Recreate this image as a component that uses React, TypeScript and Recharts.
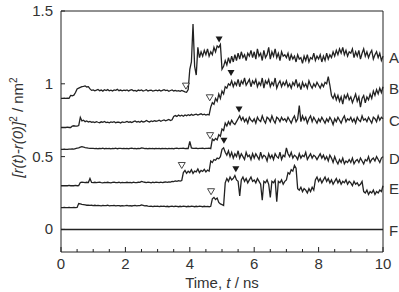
import { ComposedChart, Line, Scatter, XAxis, YAxis, ReferenceArea } from "recharts"

// sampling of the traces, ns
const STEP = 0.05

// trace A
const aValues = [
  0.90, 0.90, 0.901, 0.90, 0.902, 0.90, 0.92, 0.918, 0.922, 0.94, 0.965, 0.97, 0.975, 0.98, 0.982, 0.985, 0.978, 0.98, 0.965, 0.955,
  0.958, 0.952, 0.956, 0.961, 0.953, 0.957, 0.95, 0.959, 0.954, 0.96, 0.952, 0.956, 0.951, 0.958, 0.955, 0.962, 0.953, 0.957, 0.952, 0.956,
  0.954, 0.958, 0.951, 0.956, 0.96, 0.952, 0.955, 0.949, 0.957, 0.953, 0.958, 0.95, 0.954, 0.959, 0.951, 0.955, 0.957, 0.95, 0.953, 0.956,
  0.952, 0.957, 0.95, 0.955, 0.96, 0.953, 0.956, 0.949, 0.954, 0.958, 0.951, 0.955, 0.95, 0.953, 0.948, 0.955, 0.95, 0.945, 0.942, 0.96,
  1.10, 1.15, 1.41, 1.12, 1.06, 1.25, 1.18, 1.22, 1.19, 1.23, 1.2, 1.24, 1.19, 1.22, 1.2, 1.25, 1.22, 1.26, 1.25, 1.27,
  1.10, 1.12, 1.16, 1.13, 1.18, 1.14, 1.19, 1.15, 1.2, 1.16, 1.21, 1.17, 1.22, 1.18, 1.2, 1.16, 1.21, 1.19, 1.23, 1.18,
  1.22, 1.17, 1.24, 1.19, 1.21, 1.16, 1.23, 1.18, 1.2, 1.25, 1.17, 1.22, 1.19, 1.24, 1.18, 1.21, 1.16, 1.22, 1.19, 1.2,
  1.18, 1.21, 1.16, 1.2, 1.17, 1.19, 1.15, 1.2, 1.17, 1.18, 1.14, 1.19, 1.16, 1.2, 1.15, 1.18, 1.17, 1.21, 1.16, 1.19,
  1.17, 1.2, 1.15, 1.19, 1.16, 1.21, 1.17, 1.2, 1.18, 1.22, 1.19, 1.23, 1.2, 1.24, 1.21, 1.25, 1.2, 1.23, 1.19, 1.22,
  1.21, 1.24, 1.18, 1.22, 1.19, 1.23, 1.17, 1.21, 1.24, 1.19, 1.22, 1.18, 1.21, 1.23, 1.17, 1.2, 1.22, 1.18, 1.21, 1.16, 1.19,
]

// trace B
const bValues = [
  0.70, 0.70, 0.701, 0.70, 0.702, 0.70, 0.70, 0.71, 0.712, 0.71, 0.71, 0.713, 0.77, 0.745, 0.75, 0.74, 0.745, 0.738, 0.742, 0.736,
  0.738, 0.734, 0.74, 0.736, 0.733, 0.739, 0.735, 0.741, 0.734, 0.737, 0.732, 0.738, 0.735, 0.74, 0.733, 0.737, 0.736, 0.731, 0.738, 0.735,
  0.737, 0.742, 0.735, 0.739, 0.734, 0.74, 0.745, 0.737, 0.741, 0.736, 0.744, 0.738, 0.74, 0.748, 0.742, 0.738, 0.745, 0.741, 0.747, 0.743,
  0.745, 0.75, 0.743, 0.748, 0.752, 0.746, 0.75, 0.755, 0.748, 0.753, 0.775, 0.782, 0.776, 0.785, 0.779, 0.784, 0.777, 0.786, 0.781, 0.788,
  0.782, 0.79, 0.784, 0.788, 0.792, 0.785, 0.79, 0.794, 0.787, 0.791, 0.785, 0.79, 0.786, 0.84, 0.87, 0.86, 0.9, 0.88, 0.93, 0.9,
  0.95, 0.93, 0.98, 0.97, 1.0, 0.99, 1.02, 0.98, 1.01, 0.99, 1.03, 0.98, 1.02, 1.0, 1.04, 0.99, 1.01, 1.03, 0.98, 1.02,
  1.0, 1.03, 0.98, 1.01, 0.99, 1.04, 0.97, 1.02, 1.0, 1.03, 0.98, 1.01, 0.99, 1.04, 0.97, 1.0, 1.02, 0.98, 1.01, 0.99,
  1.02, 0.98, 1.0, 0.97, 1.01, 0.99, 1.03, 0.98, 1.0, 0.96, 1.01, 0.98, 1.0, 0.97, 1.02, 0.99, 0.97, 1.0, 0.98, 1.01,
  0.99, 0.97, 1.0, 0.98, 1.01, 1.0, 1.05, 0.99, 0.92, 0.9, 0.93, 0.89, 0.92, 0.88, 0.91, 0.86, 0.92, 0.9, 0.93, 0.89,
  0.91, 0.87, 0.9, 0.93, 0.88, 0.91, 0.84, 0.9, 0.92, 0.87, 0.91, 0.89, 0.93, 0.9, 0.95, 0.92, 0.96, 0.93, 0.97, 0.94, 0.98,
]

// trace C
const cValues = [
  0.55, 0.55, 0.551, 0.55, 0.55, 0.552, 0.551, 0.553, 0.552, 0.555, 0.558, 0.56, 0.565, 0.568, 0.566, 0.562, 0.56, 0.558, 0.557, 0.556,
  0.556, 0.555, 0.557, 0.554, 0.556, 0.555, 0.558, 0.554, 0.556, 0.555, 0.557, 0.553, 0.556, 0.555, 0.558, 0.554, 0.556, 0.557, 0.555, 0.556,
  0.555, 0.557, 0.554, 0.556, 0.558, 0.555, 0.557, 0.554, 0.556, 0.555, 0.56, 0.558, 0.555, 0.557, 0.554, 0.556, 0.555, 0.557, 0.554, 0.556,
  0.555, 0.557, 0.554, 0.556, 0.555, 0.557, 0.553, 0.556, 0.555, 0.557, 0.554, 0.556, 0.558, 0.555, 0.557, 0.556, 0.558, 0.555, 0.557, 0.556,
  0.605, 0.56, 0.557, 0.556, 0.558, 0.555, 0.557, 0.556, 0.558, 0.555, 0.557, 0.556, 0.558, 0.555, 0.62, 0.61, 0.625, 0.615, 0.65, 0.64,
  0.69, 0.68, 0.73, 0.71, 0.74, 0.72, 0.75, 0.73, 0.72, 0.74, 0.76, 0.78, 0.75, 0.77, 0.74, 0.76, 0.73, 0.77, 0.75, 0.74,
  0.76, 0.73, 0.77, 0.75, 0.74, 0.78, 0.75, 0.73, 0.77, 0.76, 0.74, 0.78, 0.75, 0.73, 0.77, 0.76, 0.74, 0.77, 0.75, 0.76,
  0.74, 0.77, 0.75, 0.73, 0.76, 0.78, 0.74, 0.76, 0.85, 0.74, 0.78, 0.75, 0.77, 0.73, 0.76, 0.78, 0.74, 0.77, 0.75, 0.73,
  0.76, 0.74, 0.77, 0.75, 0.73, 0.76, 0.74, 0.77, 0.75, 0.72, 0.76, 0.74, 0.77, 0.75, 0.73, 0.76, 0.78, 0.74, 0.76, 0.75,
  0.77, 0.74, 0.76, 0.73, 0.77, 0.75, 0.74, 0.78, 0.75, 0.76, 0.74, 0.77, 0.75, 0.73, 0.77, 0.76, 0.74, 0.78, 0.75, 0.77, 0.76,
]

// trace D
const dValues = [
  0.30, 0.30, 0.301, 0.30, 0.30, 0.302, 0.30, 0.301, 0.30, 0.302, 0.30, 0.301, 0.322, 0.325, 0.323, 0.321, 0.324, 0.322, 0.35, 0.323,
  0.322, 0.324, 0.321, 0.323, 0.325, 0.322, 0.32, 0.323, 0.321, 0.324, 0.322, 0.32, 0.323, 0.325, 0.321, 0.322, 0.324, 0.32, 0.323, 0.322,
  0.321, 0.324, 0.322, 0.323, 0.32, 0.325, 0.322, 0.321, 0.324, 0.323, 0.33, 0.326, 0.324, 0.322, 0.325, 0.323, 0.32, 0.324, 0.322, 0.325,
  0.323, 0.321, 0.325, 0.322, 0.324, 0.326, 0.323, 0.327, 0.325, 0.33, 0.328, 0.333, 0.33, 0.335, 0.332, 0.336, 0.39, 0.405, 0.385, 0.4,
  0.39, 0.41, 0.385, 0.4, 0.395, 0.415, 0.39, 0.405, 0.398, 0.412, 0.395, 0.408, 0.4, 0.47, 0.46, 0.48, 0.475, 0.49, 0.485, 0.5,
  0.55, 0.56, 0.53, 0.51, 0.54, 0.5, 0.53, 0.49, 0.52, 0.5, 0.54, 0.49, 0.52, 0.5, 0.48, 0.53, 0.5, 0.51, 0.48, 0.52,
  0.49, 0.52, 0.5, 0.48, 0.53, 0.49, 0.51, 0.5, 0.47, 0.52, 0.49, 0.51, 0.48, 0.52, 0.5, 0.49, 0.53, 0.48, 0.51, 0.5,
  0.56, 0.52, 0.5, 0.53, 0.49, 0.51, 0.5, 0.48, 0.52, 0.49, 0.51, 0.5, 0.53, 0.48, 0.5, 0.52, 0.49, 0.51, 0.5, 0.48,
  0.5, 0.52, 0.49, 0.51, 0.48, 0.5, 0.47, 0.51, 0.49, 0.46, 0.5, 0.47, 0.45, 0.48, 0.46, 0.49, 0.45, 0.47, 0.46, 0.48,
  0.46, 0.49, 0.45, 0.47, 0.48, 0.46, 0.49, 0.47, 0.45, 0.48, 0.47, 0.5, 0.46, 0.48, 0.49, 0.47, 0.5, 0.48, 0.46, 0.49, 0.5,
]

// trace E
const eValues = [
  0.15, 0.15, 0.151, 0.15, 0.15, 0.151, 0.15, 0.15, 0.152, 0.15, 0.151, 0.178, 0.175, 0.172, 0.17, 0.168, 0.166, 0.167, 0.165, 0.166,
  0.164, 0.166, 0.163, 0.165, 0.164, 0.162, 0.165, 0.163, 0.164, 0.166, 0.162, 0.164, 0.163, 0.165, 0.162, 0.164, 0.163, 0.161, 0.164, 0.162,
  0.163, 0.165, 0.162, 0.164, 0.161, 0.163, 0.165, 0.162, 0.164, 0.163, 0.168, 0.165, 0.162, 0.164, 0.16, 0.158, 0.16, 0.157, 0.159, 0.158,
  0.16, 0.157, 0.159, 0.158, 0.16, 0.157, 0.159, 0.156, 0.158, 0.16, 0.157, 0.159, 0.158, 0.156, 0.159, 0.157, 0.16, 0.158, 0.156, 0.159,
  0.157, 0.159, 0.158, 0.156, 0.159, 0.157, 0.16, 0.158, 0.156, 0.159, 0.157, 0.158, 0.156, 0.159, 0.21, 0.22, 0.205, 0.215, 0.185, 0.175,
  0.17, 0.165, 0.32, 0.35, 0.33, 0.36, 0.34, 0.35, 0.37, 0.34, 0.33, 0.23, 0.34, 0.36, 0.33, 0.35, 0.32, 0.34, 0.36, 0.33,
  0.34, 0.32, 0.35, 0.33, 0.31, 0.2, 0.33, 0.32, 0.34, 0.31, 0.22, 0.33, 0.32, 0.34, 0.19, 0.33, 0.32, 0.34, 0.31, 0.33,
  0.34, 0.39, 0.38, 0.41, 0.4, 0.44, 0.42, 0.28, 0.27, 0.29, 0.26, 0.28, 0.27, 0.25, 0.28, 0.26, 0.29, 0.27, 0.34, 0.36,
  0.33, 0.35, 0.32, 0.34, 0.36, 0.33, 0.35, 0.32, 0.34, 0.31, 0.33, 0.35, 0.32, 0.34, 0.31, 0.33, 0.32, 0.34, 0.31, 0.33,
  0.32, 0.3, 0.33, 0.31, 0.32, 0.3, 0.31, 0.33, 0.26, 0.25, 0.27, 0.24, 0.26, 0.25, 0.27, 0.24, 0.26, 0.25, 0.27, 0.26, 0.3,
]

// trace F is flat
const fTimes = [0, 10]
const fValues = [0, 0]

// open / filled triangle markers (time, value of the tip)
const openT = [3.88, 4.62, 4.63, 3.75, 4.66]
const openV = [0.96, 0.88, 0.62, 0.415, 0.235]
const filledT = [4.91, 5.28, 5.53, 5.06, 5.43]
const filledV = [1.28, 1.05, 0.8, 0.585, 0.39]

// trace names at the right edge
const tagNames = ["A", "B", "C", "D", "E", "F"]
const tagValues = [1.18, 0.965, 0.747, 0.485, 0.279, -0.01]

const xTicks = [0, 0.5, 1, 1.5, 2, 2.5, 3, 3.5, 4, 4.5, 5, 5.5, 6, 6.5, 7, 7.5, 8, 8.5, 9, 9.5, 10]
const yTicks = [0, 0.5, 1, 1.5]

const FONT = "'Liberation Sans', Arial, sans-serif"
const INK = "#222"
const TEXT = "#333"

const rows = aValues.map((a, i) => ({
  t: Math.round(i * STEP * 100) / 100,
  A: a,
  B: bValues[i],
  C: cValues[i],
  D: dValues[i],
  E: eValues[i],
}))
const fRows = fTimes.map((t, i) => ({ t, F: fValues[i] }))
const openRows = openT.map((t, i) => ({ t, v: openV[i] }))
const filledRows = filledT.map((t, i) => ({ t, v: filledV[i] }))
const tagRows = tagNames.map((name, i) => ({ t: 10, v: tagValues[i], name }))

function BottomTick(props: any) {
  const { x, y, payload } = props
  const major = payload.value % 2 === 0
  return (
    <g>
      <line x1={x} y1={y} x2={x} y2={y - (major ? 5 : 3)} stroke={INK} />
      {major && (
        <text x={x} y={y + 17} textAnchor="middle" fontSize={15} fontFamily={FONT} fill={TEXT}>
          {payload.value}
        </text>
      )}
    </g>
  )
}

function TopTick(props: any) {
  const { x, y, payload } = props
  const major = payload.value % 2 === 0
  return <line x1={x} y1={y} x2={x} y2={y + (major ? 5 : 3)} stroke={INK} />
}

function LeftTick(props: any) {
  const { x, y, payload } = props
  return (
    <g>
      <line x1={x} y1={y} x2={x + 4} y2={y} stroke={INK} />
      <text x={x - 8} y={y + 5} textAnchor="end" fontSize={15} fontFamily={FONT} fill={TEXT}>
        {payload.value}
      </text>
    </g>
  )
}

function OpenTriangle(props: any) {
  const { cx, cy } = props
  return (
    <path
      d={`M${cx - 3.5},${cy - 6.5}L${cx + 3.5},${cy - 6.5}L${cx},${cy - 0.5}Z`}
      fill="#fff"
      stroke="#333"
      strokeWidth={0.9}
    />
  )
}

function FilledTriangle(props: any) {
  const { cx, cy } = props
  return <path d={`M${cx - 3.5},${cy - 6.5}L${cx + 3.5},${cy - 6.5}L${cx},${cy - 0.5}Z`} fill="#1a1a1a" />
}

function Tag(props: any) {
  const { cx, cy, payload } = props
  return (
    <text x={cx + 6} y={cy + 5.5} fontSize={15} fontFamily={FONT} fill={TEXT}>
      {payload.name}
    </text>
  )
}

function XTitle(props: any) {
  const { x, y, width } = props.viewBox
  return (
    <text x={x + width / 2} y={y + 36} textAnchor="middle" fontSize={15} fontFamily={FONT} fill={TEXT}>
      Time, <tspan fontStyle="italic">t</tspan> / ns
    </text>
  )
}

function YTitle(props: any) {
  const { y, height } = props.viewBox
  const cx = 23
  const cy = y + height / 2 - 4
  return (
    <text
      x={cx}
      y={cy}
      transform={`rotate(-90 ${cx} ${cy})`}
      textAnchor="middle"
      fontSize={15}
      fontFamily={FONT}
      fill={TEXT}
    >
      <tspan fontStyle="italic">[r(t)-r(0)]</tspan>
      <tspan dy={-6} fontSize={10}>2</tspan>
      <tspan dy={6}> / nm</tspan>
      <tspan dy={-6} fontSize={10}>2</tspan>
    </text>
  )
}

export default function App() {
  return (
    <div style={{ position: "absolute", left: 0, top: 0, width: 399, height: 292, background: "#fff" }}>
      <ComposedChart width={399} height={292} data={rows} margin={{ top: 11, right: 16, bottom: 0, left: 0 }}>
        <XAxis
          xAxisId="b"
          dataKey="t"
          type="number"
          domain={[0, 10]}
          ticks={xTicks}
          interval={0}
          height={40}
          axisLine={false}
          tickLine={false}
          tickSize={0}
          tickMargin={0}
          tick={<BottomTick />}
          label={{ content: (p: any) => <XTitle {...p} /> }}
        />
        <XAxis
          xAxisId="top"
          orientation="top"
          dataKey="t"
          type="number"
          domain={[0, 10]}
          allowDataOverflow
          ticks={xTicks}
          interval={0}
          height={0}
          axisLine={false}
          tickLine={false}
          tickSize={0}
          tickMargin={0}
          tick={<TopTick />}
        />
        <YAxis
          type="number"
          domain={[-0.155, 1.5]}
          ticks={yTicks}
          interval={0}
          width={61}
          axisLine={false}
          tickLine={false}
          tickSize={0}
          tickMargin={0}
          tick={<LeftTick />}
          label={{ content: (p: any) => <YTitle {...p} /> }}
        />
        <ReferenceArea xAxisId="b" x1={0} x2={10} y1={-0.155} y2={1.5} fill="none" stroke={INK} strokeWidth={1} />
        {["A", "B", "C", "D", "E"].map((k) => (
          <Line
            key={k}
            xAxisId="b"
            dataKey={k}
            type="linear"
            dot={false}
            stroke={INK}
            strokeWidth={1.3}
            isAnimationActive={false}
          />
        ))}
        <Line xAxisId="b" data={fRows} dataKey="F" type="linear" dot={false} stroke={INK} strokeWidth={1.4} isAnimationActive={false} />
        <Scatter xAxisId="b" data={openRows} dataKey="v" shape={<OpenTriangle />} isAnimationActive={false} />
        <Scatter xAxisId="b" data={filledRows} dataKey="v" shape={<FilledTriangle />} isAnimationActive={false} />
        <Scatter xAxisId="b" data={tagRows} dataKey="v" shape={<Tag />} isAnimationActive={false} />
      </ComposedChart>
    </div>
  )
}
